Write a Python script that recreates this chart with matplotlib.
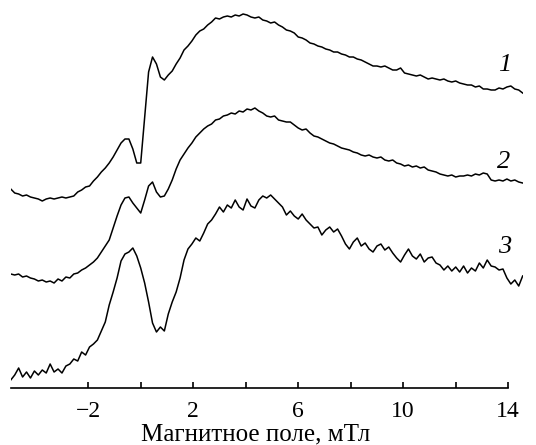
import numpy as np
import matplotlib
matplotlib.use("Agg")
import matplotlib.pyplot as plt
from matplotlib.ticker import FixedLocator, FuncFormatter

# магнитное поле, мТл (развёртка с шагом 0.15 мТл)
field = np.linspace(-4.95, 14.55, 131)

# интенсивность, отн. ед. (спектры уже сдвинуты по вертикали)
spec1 = [199, 195, 194, 192, 193, 191, 190, 189, 187, 189,
         190, 189, 190, 191, 190, 191, 192, 196, 198, 201,
         202, 207, 211, 216, 220, 225, 231, 238, 245, 249,
         249, 239, 225, 225, 270, 316, 331, 324, 311, 308,
         313, 317, 324, 330, 338, 342, 347, 353, 357, 359,
         363, 366, 370, 369, 371, 372, 371, 373, 372, 374,
         373, 371, 370, 371, 368, 367, 365, 366, 363, 361,
         358, 357, 355, 351, 350, 348, 345, 344, 342, 341,
         339, 338, 336, 336, 334, 333, 331, 331, 329, 328,
         326, 324, 322, 322, 321, 322, 320, 318, 318, 320,
         315, 314, 313, 312, 313, 311, 309, 310, 309, 308,
         309, 307, 306, 307, 305, 304, 303, 303, 301, 302,
         299, 299, 298, 298, 300, 299, 301, 302, 299, 298, 295]

spec2 = [114, 113, 114, 111, 112, 110, 109, 107, 108, 106,
         107, 105, 109, 107, 111, 110, 114, 115, 118, 120,
         123, 126, 130, 136, 142, 148, 160, 172, 183, 190,
         191, 185, 180, 175, 188, 202, 206, 196, 191, 192,
         199, 208, 219, 228, 234, 240, 245, 251, 255, 259,
         262, 264, 268, 269, 272, 273, 275, 274, 277, 276,
         279, 278, 280, 277, 275, 272, 271, 272, 268, 267,
         266, 266, 263, 260, 258, 259, 255, 252, 251, 249,
         247, 245, 244, 242, 240, 239, 238, 236, 235, 233,
         232, 233, 231, 230, 231, 228, 227, 228, 225, 224,
         222, 223, 221, 222, 220, 221, 218, 217, 216, 214,
         213, 212, 213, 211, 212, 212, 213, 212, 214, 213,
         215, 214, 208, 207, 208, 207, 209, 207, 208, 206, 205]

spec3 = [8, 13, 20, 11, 16, 10, 17, 13, 18, 15,
         24, 16, 19, 15, 22, 24, 29, 27, 36, 33,
         41, 44, 48, 57, 66, 83, 96, 110, 127, 134,
         136, 140, 132, 120, 105, 86, 65, 56, 61, 57,
         74, 86, 96, 110, 128, 139, 144, 150, 147, 155,
         164, 168, 174, 181, 176, 183, 180, 188, 181, 178,
         189, 182, 180, 188, 192, 190, 193, 189, 185, 181,
         173, 177, 172, 169, 174, 168, 164, 160, 161, 153,
         158, 161, 156, 159, 152, 144, 139, 146, 150, 142,
         145, 139, 136, 142, 144, 138, 141, 135, 130, 126,
         133, 139, 132, 129, 134, 126, 130, 131, 125, 123,
         118, 122, 117, 121, 116, 122, 115, 120, 117, 125,
         120, 128, 122, 121, 118, 119, 110, 104, 108, 102, 112]

spectra = [spec1, spec2, spec3]
names = ["1", "2", "3"]
name_pos = [(13.88, 323), (13.82, 226), (13.85, 141)]

plt.rcParams['font.family'] = ['Liberation Serif', 'DejaVu Serif']

fig = plt.figure(figsize=(5.36, 4.45), dpi=100)
ax = fig.add_axes([0.0201, 0.1292, 0.955, 0.8708])

for s in spectra:
    ax.plot(field, s, color='k', lw=1.1)

for n, (x, y) in zip(names, name_pos):
    ax.text(x, y, n, fontsize=19, style='italic', ha='center', va='center')

ax.set_xlim(-4.95, 14.55)
ax.set_ylim(0.5, 388)

for side in ['top', 'right', 'left']:
    ax.spines[side].set_visible(False)
ax.spines['bottom'].set_bounds(-4.95, 14)
ax.spines['bottom'].set_linewidth(1.2)
ax.set_yticks([])


def tick_fmt(v, pos):
    # подписи только у -2, 2, 6, 10, 14
    if int(round(v)) % 4 == 0:
        return ""
    return ("%d" % v).replace("-", "\u2212")


ax.xaxis.set_major_locator(FixedLocator([-2, 0, 2, 4, 6, 8, 10, 12, 14]))
ax.xaxis.set_major_formatter(FuncFormatter(tick_fmt))
ax.tick_params(axis='x', direction='in', length=4.5, width=1.2,
               labelsize=17, pad=9.5)

fig.text(0.4767, 0.011, "Магнитное поле, мТл", fontsize=18,
         ha='center', va='baseline')

fig.savefig("out.png", dpi=100)
